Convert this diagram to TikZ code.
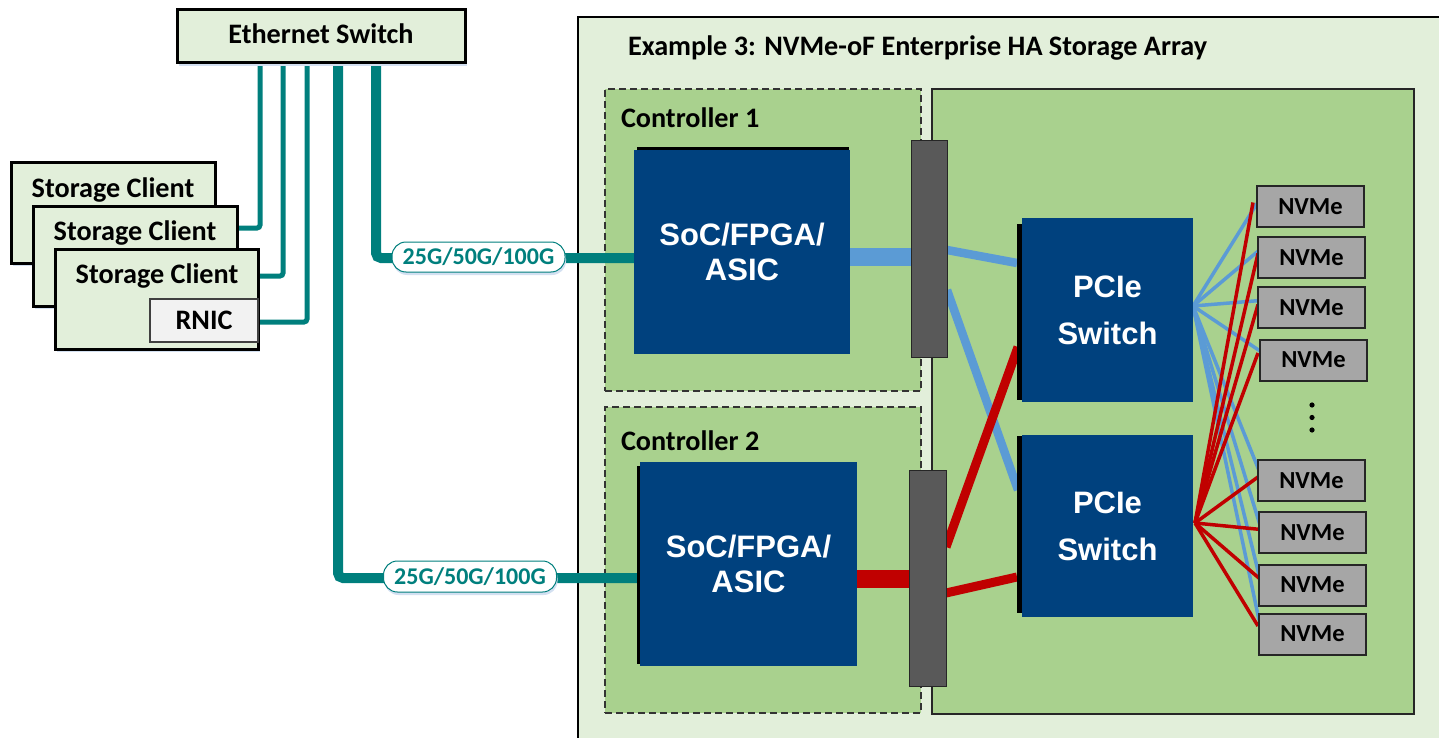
\documentclass[tikz,border=0pt]{standalone}
\usepackage{fontspec}
\setmainfont{Carlito}
\newfontfamily\chipfont{Liberation Sans}
\usetikzlibrary{calc,shadows}

\definecolor{paleGreen}{HTML}{E2EFDA}
\definecolor{leafGreen}{HTML}{A9D18E}
\definecolor{netTeal}{HTML}{007F7D}
\definecolor{chipBlue}{HTML}{00417E}
\definecolor{linkBlue}{HTML}{5B9BD5}
\definecolor{linkRed}{HTML}{C00000}
\definecolor{barGray}{HTML}{595959}
\definecolor{driveGray}{HTML}{A6A6A6}
\definecolor{nicGray}{HTML}{F2F2F2}
\definecolor{shadowBlue}{HTML}{D3E0F1}

\pgfdeclarelayer{back}
\pgfdeclarelayer{wires}
\pgfsetlayers{back,wires,main}

\begin{document}
\begin{tikzpicture}[x=1pt,y=-1pt,
  every node/.style={inner sep=0pt,outer sep=0pt},
  cal/.style={font=\fontsize{28.2}{33}\selectfont\bfseries},
  hostbox/.style={draw=black,line width=3pt,fill=paleGreen,
    drop shadow={shadow xshift=2pt,shadow yshift=-3pt,fill=shadowBlue,opacity=1}},
  ctrlbox/.style={draw=black!80,line width=2pt,dash pattern=on 7pt off 4pt,fill=leafGreen},
  chip/.style={fill=chipBlue,text=white,align=center,
    font=\chipfont\fontsize{31}{35}\selectfont\bfseries},
  pswitch/.style={fill=chipBlue,text=white,align=center,
    font=\chipfont\fontsize{31}{47}\selectfont\bfseries},
  bar/.style={draw=black!85,line width=1pt,fill=barGray,minimum width=36pt,minimum height=216pt},
  drive/.style={draw=black!85,line width=2pt,fill=driveGray,minimum width=107pt,
    minimum height=41pt,font=\fontsize{24.5}{28}\selectfont\bfseries},
  rate/.style={draw=netTeal,line width=1pt,fill=white,rounded corners=14pt,text=netTeal,
    minimum width=173pt,minimum height=30pt,font=\fontsize{24}{28}\selectfont\bfseries,
    drop shadow={shadow xshift=1pt,shadow yshift=-3pt,fill=shadowBlue,opacity=1}},
  netthin/.style={draw=netTeal,line width=5pt,rounded corners=3pt},
  netthick/.style={draw=netTeal,line width=10pt,rounded corners=5pt},
  fatBlue/.style={draw=linkBlue,line width=18pt},
  fatRed/.style={draw=linkRed,line width=18pt},
  busBlue/.style={draw=linkBlue,line width=8.5pt},
  busRed/.style={draw=linkRed,line width=9pt},
  laneBlue/.style={draw=linkBlue,line width=3.5pt},
  laneRed/.style={draw=linkRed,line width=3.5pt}]

\useasboundingbox (0,0) rectangle (1439,738);

% ---------- storage array enclosure ----------
\begin{pgfonlayer}{back}
  \begin{scope}
    \clip (0,0) rectangle (1439,738);
    \draw[line width=2.5pt,fill=paleGreen] (578,17) rectangle (1470,770);
  \end{scope}
  \node[ctrlbox,minimum width=316pt,minimum height=302pt] (ctl1) at (763,240) {};
  \node[ctrlbox,minimum width=316pt,minimum height=306pt] (ctl2) at (763,560) {};
  \node[draw=black!85,line width=2pt,fill=leafGreen,minimum width=482pt,minimum height=625pt] (fabric) at (1173,401.5) {};
\end{pgfonlayer}

\node[cal,anchor=base west] (title) at (628,56) {Example 3: NVMe-oF Enterprise HA Storage Array};
\node[cal,anchor=base west] (ctl1txt) at (621,128) {Controller 1};
\node[cal,anchor=base west] (ctl2txt) at (621,450) {Controller 2};

% ---------- hosts and network ----------
\node[hostbox,minimum width=288pt,minimum height=53pt] (eth) at (321,36.5) {};
\node[cal,anchor=base] (ethtxt) at (321,44) {Ethernet Switch};

\node[hostbox,minimum width=204pt,minimum height=100pt] (cl1) at (113,213) {};
\node[cal,anchor=base] (cl1txt) at (113,197) {Storage Client};
\node[hostbox,minimum width=204pt,minimum height=100pt] (cl2) at (135,256) {};
\node[cal,anchor=base] (cl2txt) at (135,240) {Storage Client};
\node[hostbox,minimum width=203pt,minimum height=100pt] (cl3) at (156.5,299) {};
\node[cal,anchor=base] (cl3txt) at (157,283) {Storage Client};
\node[cal,draw=black!75,line width=2pt,fill=nicGray,minimum width=108pt,minimum height=43pt] (rnic) at (204,320.5) {RNIC};

% ---------- controller silicon ----------
\fill[black] (637,147) rectangle (849,352);
\node[chip,minimum width=216pt,minimum height=204pt] (soc1) at (742,252) {SoC/FPGA/\\ASIC};
\fill[black] (637,466) rectangle (855,664);
\node[chip,minimum width=217pt,minimum height=204pt] (soc2) at (748.5,564) {SoC/FPGA/\\ASIC};

\node[bar] (bar1) at (929,249) {};
\node[bar,minimum width=37pt] (bar2) at (927.5,578) {};

\fill[black] (1017,224) rectangle (1190,400);
\node[pswitch,minimum width=171pt,minimum height=184pt] (pcie1) at (1107.5,310) {PCIe\\Switch};
\fill[black] (1017,436) rectangle (1190,613);
\node[pswitch,minimum width=171pt,minimum height=182pt] (pcie2) at (1107.5,526) {PCIe\\Switch};

% ---------- drives ----------
\node[drive] (n1) at (1310.5,206.5) {NVMe};
\node[drive] (n2) at (1311.5,257.5) {NVMe};
\node[drive] (n3) at (1311.5,307.5) {NVMe};
\node[drive] (n4) at (1313.5,360) {NVMe};
\node[drive] (n5) at (1311.5,480.5) {NVMe};
\node[drive] (n6) at (1312.5,532.5) {NVMe};
\node[drive] (n7) at (1312.5,585) {NVMe};
\node[drive] (n8) at (1312.5,634) {NVMe};
\foreach \yy in {405,417.5,430} \fill[black] (1312,\yy) circle (2.6pt);

% ---------- network cabling ----------
\coordinate (j1) at (260,228);
\coordinate (j2) at (283,276);
\coordinate (j3) at (307,322);
\coordinate (j4) at (338,578);
\coordinate (j5) at (376,258);
\begin{pgfonlayer}{wires}
  \draw[netthin] (eth.south -| j1) |- (cl2.east |- j1);
  \draw[netthin] (eth.south -| j2) |- (cl3.east |- j2);
  \draw[netthin] (eth.south -| j3) |- (rnic.east |- j3);
  \draw[netthick] (eth.south -| j4) |- (soc2.west |- j4);
  \draw[netthick] (eth.south -| j5) |- (soc1.west |- j5);

  % controller to midplane to PCIe switches
  \draw[fatBlue] ($(soc1.east)+(0,5)$) -- ($(bar1.west)+(0,8)$);
  \draw[fatRed] ($(soc2.east)+(0,15)$) -- ($(bar2.west)+(0,1)$);
  \draw[busBlue] ($(bar1.east)+(0,1)$) -- ($(pcie1.west)+(-5,-47)$);
  \draw[busBlue] ($(bar1.east)+(0,41)$) -- ($(pcie2.west)+(-4,-36)$);
  \draw[busRed] ($(bar2.east)+(0,-31)$) -- ($(pcie1.west)+(-4,37)$);
  \draw[busRed] ($(bar2.east)+(0,15)$) -- ($(pcie2.west)+(-5,51)$);

  % PCIe switch fan-out to drives
  \coordinate (f1) at ($(pcie1.east)+(0,-4)$);
  \coordinate (f2) at ($(pcie2.east)+(2,-3)$);
  \draw[laneBlue] (f1) -- ($(n1.west)+(0,-3)$);
  \draw[laneBlue] (f1) -- ($(n2.west)+(2,-8)$);
  \draw[laneBlue] (f1) -- ($(n3.west)+(2,-7)$);
  \draw[laneBlue] (f1) -- ($(n4.west)+(3,-7)$);
  \draw[laneBlue] (f1) -- ($(n5.west)+(5,0)$);
  \draw[laneBlue] (f1) -- ($(n6.west)+(2,-4)$);
  \draw[laneBlue] (f1) -- ($(n7.west)+(0,-10)$);
  \draw[laneBlue] (f1) -- ($(n8.west)+(0,-14)$);
  \draw[laneRed] (f2) -- ($(n1.west)+(-4,-4)$);
  \draw[laneRed] (f2) -- ($(n2.west)+(0,-4)$);
  \draw[laneRed] (f2) -- ($(n3.west)+(0,-3)$);
  \draw[laneRed] (f2) -- ($(n4.west)+(-2,-7)$);
  \draw[laneRed] (f2) -- ($(n5.west)+(2,-5)$);
  \draw[laneRed] (f2) -- ($(n6.west)+(2,-3)$);
  \draw[laneRed] (f2) -- ($(n7.west)+(1,-6)$);
  \draw[laneRed] (f2) -- ($(n8.west)+(-1,-8)$);
\end{pgfonlayer}

\node[rate] (r1) at (478.5,257) {25G/50G/100G};
\node[rate,minimum height=31pt] (r2) at (470,576.5) {25G/50G/100G};

\end{tikzpicture}
\end{document}
